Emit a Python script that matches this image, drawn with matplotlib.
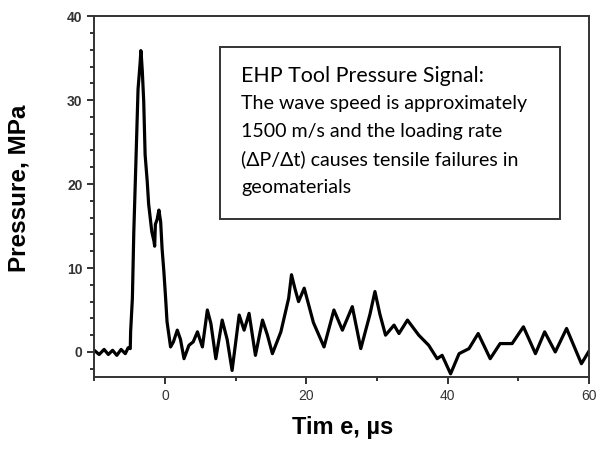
import matplotlib
matplotlib.use("Agg")
import matplotlib.pyplot as plt
from matplotlib.patches import Rectangle
from matplotlib.ticker import MultipleLocator

# signal (time in us, pressure in MPa)
time_us = [-10, -9.3, -8.6, -8, -7.4, -6.8, -6.2, -5.6, -5.2, -4.9,
           -4.85, -4.6, -4.4, -4.1, -3.8, -3.5, -3.4, -3.3, -3.2, -3.0,
           -2.8, -2.5, -2.3, -1.85, -1.55, -1.45, -1.35, -1.1, -0.85, -0.6,
           -0.4, -0.15, 0.1, 0.3, 0.8, 1.2, 1.75, 2.2, 2.7, 3.4,
           4.0, 4.6, 5.3, 6.0, 6.5, 7.2, 8.1, 8.8, 9.5, 10.5,
           11.2, 11.9, 12.8, 13.8, 14.5, 15.2, 16.4, 17.5, 17.9, 18.4,
           18.9, 19.7, 21.0, 22.5, 23.9, 25.1, 26.5, 27.7, 29.0, 29.7,
           30.4, 31.2, 32.4, 33.1, 34.3, 35.9, 37.3, 38.5, 39.2, 40.4,
           41.6, 43.0, 44.3, 46.0, 47.4, 49.1, 50.7, 52.4, 53.7, 55.2,
           56.8, 58.9, 59.9]
pressure = [0.2, -0.3, 0.3, -0.3, 0.2, -0.4, 0.3, -0.2, 0.5, 0.4,
            2.4, 6.4, 14.3, 22.7, 31.3, 34.5, 35.9, 34.8, 33.5, 29.9,
            23.5, 20.3, 17.6, 14.3, 13.2, 12.6, 15.2, 15.8, 16.9, 15.5,
            12.3, 9.6, 6.4, 3.6, 0.6, 1.2, 2.6, 1.5, -0.8, 0.8,
            1.2, 2.4, 0.6, 5.0, 3.4, -0.8, 3.8, 1.5, -2.2, 4.4,
            2.6, 4.6, -0.4, 3.8, 2.0, -0.2, 2.4, 6.4, 9.2, 7.5,
            6.0, 7.6, 3.5, 0.6, 5.0, 2.6, 5.4, 0.4, 4.5, 7.2,
            4.5, 2.0, 3.2, 2.2, 3.8, 2.0, 0.8, -0.8, -0.4, -2.6,
            -0.2, 0.4, 2.2, -0.8, 1.0, 1.0, 3.0, -0.2, 2.4, 0.0,
            2.8, -1.4, 0.0]

heading = "EHP Tool Pressure Signal:"
note_lines = ["The wave speed is approximately",
              "1500 m/s and the loading rate",
              "(\u0394P/\u0394t) causes tensile failures in",
              "geomaterials"]

INK = "#222222"
plt.rcParams.update({"font.family": ["Liberation Sans", "DejaVu Sans"]})

fig = plt.figure(figsize=(6, 4.49), dpi=100)
ax = fig.add_axes([0.157, 0.160, 0.825, 0.804])
ax.plot(time_us, pressure, color="black", lw=2.3)

ax.set_xlim(-10, 60)
ax.set_ylim(-3, 40)
ax.xaxis.set_major_locator(MultipleLocator(20))
ax.xaxis.set_minor_locator(MultipleLocator(10))
ax.yaxis.set_major_locator(MultipleLocator(10))
ax.yaxis.set_minor_locator(MultipleLocator(2))
ax.tick_params(which="both", direction="out", color=INK, width=1.3,
               labelsize=10, labelcolor="#333333")
ax.tick_params(which="major", length=5)
ax.tick_params(which="minor", length=3)
for lbl in ax.get_yticklabels():
    lbl.set_fontweight("bold")
for s in ax.spines.values():
    s.set_color("#333333"); s.set_linewidth(1.4)

ax.set_xlabel("Tim e, \u00b5s", fontsize=17, fontweight="bold")
ax.set_ylabel("Pressure, MPa", fontsize=17.5, fontweight="bold")
ax.xaxis.set_label_coords(0.501, -0.108)
ax.yaxis.set_label_coords(-0.128, 0.523)

# annotation box
ax.add_patch(Rectangle((0.2545, 0.438), 0.6865, 0.477, transform=ax.transAxes,
                       fill=True, facecolor="white", edgecolor="#333333", lw=1.4))
tf = ["Lato", "DejaVu Sans"]
ax.text(0.297, 0.818, heading, transform=ax.transAxes, family=tf,
        fontsize=15.4, va="baseline")
for i, line in enumerate(note_lines):
    ax.text(0.297, 0.742 - i * 0.0777, line, transform=ax.transAxes, family=tf,
            fontsize=14.1, va="baseline")

fig.savefig("out.png", dpi=100)
